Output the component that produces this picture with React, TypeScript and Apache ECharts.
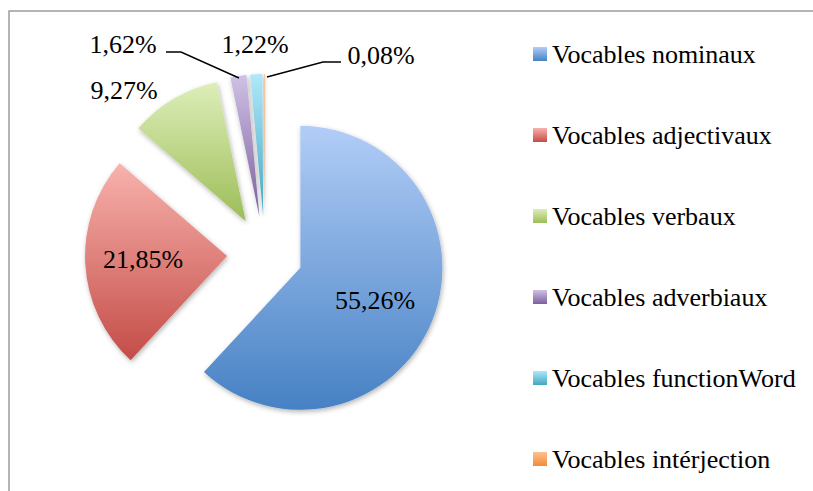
import React, { useEffect, useRef } from 'react';
import * as echarts from 'echarts';

const categories = [
  'Vocables nominaux',
  'Vocables adjectivaux',
  'Vocables verbaux',
  'Vocables adverbiaux',
  'Vocables functionWord',
  'Vocables intérjection',
];
const values = [55.26, 21.85, 9.27, 1.62, 1.22, 0.08];
const labelTexts = values.map((v) => v.toFixed(2).replace('.', ',') + '%');

const palette: [string, string][] = [
  ['#b2cdf7', '#4681c4'],
  ['#f8b2ad', '#c44c47'],
  ['#ddeeb9', '#9dbd57'],
  ['#cfc1e6', '#7c5f9d'],
  ['#b0e8fa', '#42a6c2'],
  ['#fcc190', '#f48b38'],
];

const labelPos: number[][] = [
  [375, 300],
  [143, 259],
  [124, 90],
  [123, 44],
  [255, 44],
  [381, 55],
];
const labelLines: Record<number, number[][]> = {
  3: [
    [166, 52],
    [181, 52],
    [239, 78],
  ],
  5: [
    [267, 77],
    [323, 62],
    [341, 62],
  ],
};

const FONT = 'Times New Roman, Liberation Serif, serif';
const CENTER = [265, 254];
const RADIUS = 142;

export default function App() {
  const ref = useRef<HTMLDivElement>(null);
  useEffect(() => {
    if (!ref.current) return;
    const chart = echarts.init(ref.current, null, { renderer: 'svg' });
    const sliceData = categories.map((name, i) => ({
      name,
      value: values[i],
      selected: true,
      itemStyle: {
        color: new echarts.graphic.LinearGradient(0, 0, 0, 1, [
          { offset: 0, color: palette[i][0] },
          { offset: 1, color: palette[i][1] },
        ]),
      },
    }));
    const labelData = categories.map((name, i) => ({
      name,
      value: values[i],
      labelLine: { show: i === 3 || i === 5 },
    }));
    chart.setOption({
      animation: false,
      backgroundColor: '#ffffff',
      textStyle: { fontFamily: FONT },
      graphic: [
        {
          type: 'rect',
          shape: { x: 9, y: 11, width: 900, height: 600 },
          style: { fill: 'none', stroke: '#9c9c9c', lineWidth: 1.5 },
          silent: true,
        },
      ],
      legend: {
        orient: 'vertical',
        left: 528,
        top: 36,
        itemGap: 55,
        itemWidth: 14,
        itemHeight: 14,
        itemTextGap: 7,
        icon: 'rect',
        selectedMode: false,
        data: categories,
        textStyle: { fontSize: 26, fontFamily: FONT, color: '#000' },
      },
      series: [
        {
          type: 'pie',
          center: CENTER,
          radius: RADIUS,
          startAngle: 90,
          selectedMode: 'multiple',
          selectedOffset: 38,
          data: sliceData,
          label: { show: false },
          labelLine: { show: false },
          itemStyle: {
            borderWidth: 0,
            shadowBlur: 5,
            shadowColor: 'rgba(0,0,0,0.3)',
            shadowOffsetX: 1,
            shadowOffsetY: 2,
          },
          select: { itemStyle: { borderWidth: 0 } },
          emphasis: { disabled: true },
        },
        {
          type: 'pie',
          center: CENTER,
          radius: RADIUS,
          startAngle: 90,
          silent: true,
          z: 5,
          avoidLabelOverlap: false,
          data: labelData,
          itemStyle: { color: 'rgba(0,0,0,0)', borderWidth: 0 },
          label: {
            formatter: (p: any) => labelTexts[p.dataIndex],
            fontSize: 26,
            fontFamily: FONT,
            color: '#000',
          },
          labelLine: {
            lineStyle: { color: '#000', width: 1.4 },
          },
          labelLayout: (params: any) => {
            const i = params.dataIndex;
            const out: any = {
              x: labelPos[i][0],
              y: labelPos[i][1],
              align: 'center',
              verticalAlign: 'middle',
            };
            if (labelLines[i]) out.labelLinePoints = labelLines[i];
            return out;
          },
          emphasis: { disabled: true },
        },
      ],
    });
    return () => chart.dispose();
  }, []);
  return (
    <div
      ref={ref}
      style={{ position: 'fixed', left: 0, top: 0, width: 813, height: 491 }}
    />
  );
}
